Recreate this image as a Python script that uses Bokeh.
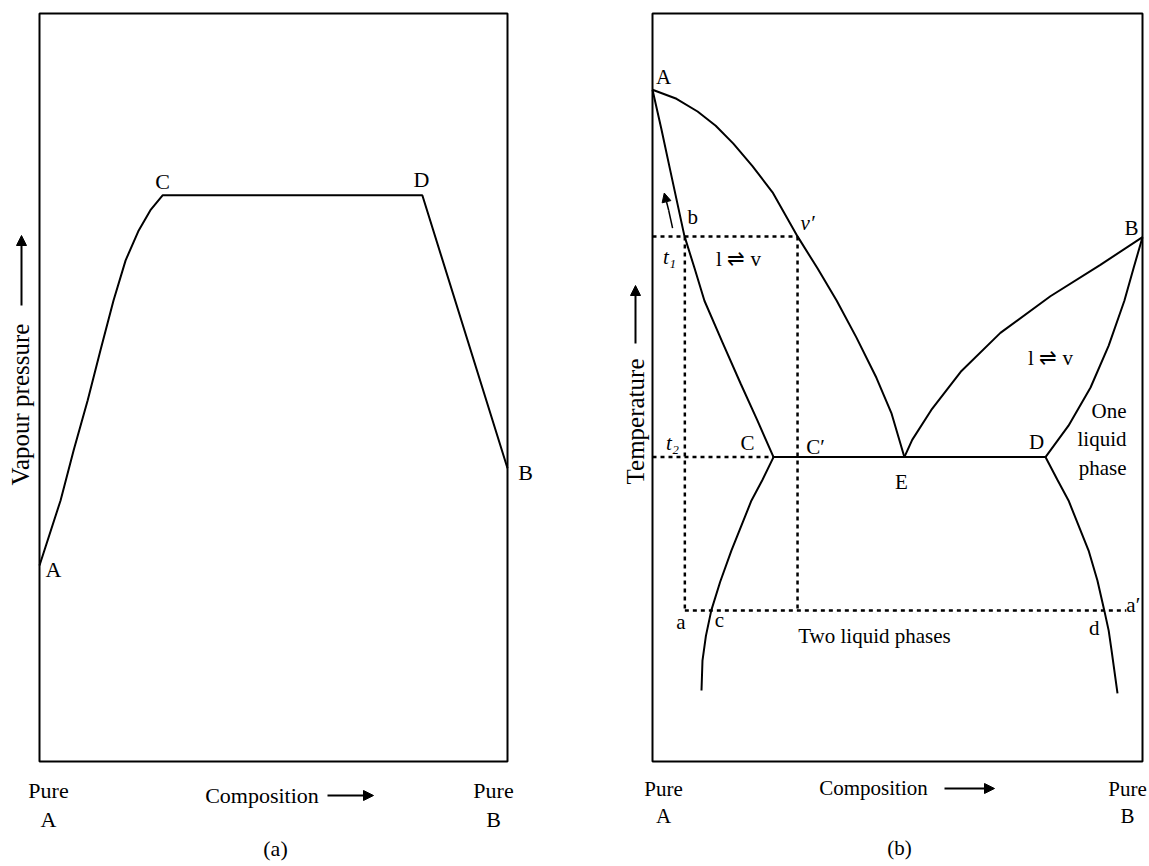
import math
from bokeh.plotting import figure
from bokeh.layouts import row
from bokeh.models import Label, Arrow, NormalHead, Range1d
from bokeh.embed import file_html
from bokeh.resources import INLINE

# ---------------- data: panel (a) vapour pressure vs composition ----------------
comp_a = [0.0, 0.045, 0.073, 0.103, 0.130, 0.158, 0.184, 0.212, 0.237, 0.263, 0.818, 1.0]
vp_a = [26.2, 34.9, 41.6, 48.3, 54.9, 61.6, 67.0, 71.0, 73.7, 75.7, 75.7, 39.2]
pts_a = {"A": (0.0, 26.2), "C": (0.263, 75.7), "D": (0.818, 75.7), "B": (1.0, 39.2)}

# ---------------- data: panel (b) temperature vs composition ----------------
vapA_x = [0.0, 0.049, 0.092, 0.129, 0.165, 0.204, 0.245, 0.296, 0.337, 0.376, 0.416, 0.457, 0.488, 0.514]
vapA_y = [89.8, 88.6, 86.9, 85.0, 82.6, 79.6, 76.1, 70.2, 65.9, 61.6, 56.7, 51.3, 46.5, 40.7]
liqA_x = [0.0, 0.018, 0.035, 0.065, 0.086, 0.106, 0.143, 0.180, 0.214, 0.247]
liqA_y = [89.8, 84.6, 79.4, 70.3, 65.9, 61.6, 56.0, 50.5, 45.6, 40.7]
vapB_x = [0.514, 0.530, 0.569, 0.629, 0.710, 0.812, 0.914, 1.0]
vapB_y = [40.7, 43.0, 47.0, 52.1, 57.3, 62.2, 66.4, 70.1]
liqB_x = [1.0, 0.982, 0.963, 0.931, 0.894, 0.849, 0.802]
liqB_y = [70.1, 66.0, 61.6, 55.6, 50.0, 44.9, 40.7]
solL_x = [0.247, 0.224, 0.202, 0.161, 0.138, 0.120, 0.109, 0.102, 0.100]
solL_y = [40.7, 37.6, 34.9, 28.2, 24.0, 20.2, 16.8, 13.5, 9.5]
solR_x = [0.802, 0.826, 0.849, 0.890, 0.908, 0.922, 0.931, 0.937, 0.949]
solR_y = [40.7, 37.7, 34.9, 28.2, 24.2, 20.2, 17.5, 14.8, 9.1]
x_C, x_E, x_D = 0.247, 0.514, 0.802
t1, t2, t_a = 70.2, 40.7, 20.2
x_a, x_vp, x_ap = 0.066, 0.296, 0.967
x_c, x_d = 0.120, 0.922
curl_x = [0.041, 0.033, 0.024]
curl_y = [71.3, 73.7, 76.0]

FONT = "Liberation Serif"

# reference layout (pixels) -> data helpers for annotation placement
A_L, A_W, B_L, B_W, TOP, H = 39, 468, 652, 490, 13, 748
def ax(px): return (px - A_L) / A_W
def bx(px): return (px - B_L) / B_W
def yy(py): return (TOP + H - py) / H * 100


def lab(p, x, y, text, dx=0, dy=0, size=22, style="normal", align="center",
        baseline="middle", angle=0.0, lh=1.16):
    p.add_layout(Label(x=x, y=y, x_offset=dx, y_offset=dy, text=text,
                       text_font=FONT, text_font_size=f"{size}px",
                       text_font_style=style, text_align=align,
                       text_baseline=baseline, text_color="black",
                       angle=angle, text_line_height=lh))


def arrow(p, x0, y0, x1, y1, size=10, lw=2):
    p.add_layout(Arrow(end=NormalHead(size=size, fill_color="black", line_color="black"),
                       x_start=x0, y_start=y0, x_end=x1, y_end=y1,
                       line_color="black", line_width=lw))


def make_fig(width, xr):
    p = figure(width=width, height=866, x_range=Range1d(*xr), y_range=Range1d(yy(866), yy(0)),
               x_axis_type=None, y_axis_type=None, toolbar_location=None, tools="",
               output_backend="svg", title=None,
               min_border_left=0, min_border_right=0, min_border_top=0, min_border_bottom=0)
    p.outline_line_color = None
    p.background_fill_color = "white"
    p.border_fill_color = "white"
    # plot box (composition 0..1, property 0..100)
    p.quad(left=0, right=1, bottom=0, top=100, fill_color=None,
           line_color="black", line_width=2)
    return p


# ---------------- panel (a) ----------------
pa = make_fig(580, (ax(0), ax(580)))
pa.line(comp_a, vp_a, line_color="black", line_width=2)
lab(pa, *pts_a["C"], "C", dy=14)
lab(pa, *pts_a["D"], "D", dx=-1, dy=16)
lab(pa, *pts_a["A"], "A", dx=14, dy=-4)
lab(pa, *pts_a["B"], "B", dx=18, dy=-4)
lab(pa, ax(48), yy(777), "Pure\nA", baseline="top")
lab(pa, ax(493), yy(777), "Pure\nB", baseline="top")
lab(pa, ax(261.5), yy(795), "Composition")
arrow(pa, ax(327), yy(795), ax(373), yy(795))
lab(pa, ax(275), yy(848), "(a)")
lab(pa, ax(20), yy(404), "Vapour pressure", size=25, angle=math.pi / 2)
arrow(pa, ax(21), yy(305), ax(21), yy(235))

# ---------------- panel (b) ----------------
pb = make_fig(569, (bx(580), bx(1149)))
K = dict(line_color="black", line_width=2)
D = dict(line_color="black", line_width=2.5, line_dash="4 4")
pb.line(vapA_x, vapA_y, **K)
pb.line(liqA_x, liqA_y, **K)
pb.line(vapB_x, vapB_y, **K)
pb.line(liqB_x, liqB_y, **K)
pb.line(solL_x, solL_y, **K)
pb.line(solR_x, solR_y, **K)
pb.line([x_C, x_D], [t2, t2], **K)
pb.line([0, x_vp], [t1, t1], **D)
pb.line([0, x_C], [t2, t2], **D)
pb.line([x_a, x_ap], [t_a, t_a], **D)
pb.line([x_a, x_a], [t1, t_a], **D)
pb.line([x_vp, x_vp], [t1, t_a], **D)
pb.line(curl_x[:2], curl_y[:2], line_color="black", line_width=1.5)
arrow(pb, curl_x[1], curl_y[1], curl_x[2], curl_y[2], size=9, lw=1.5)

S = 21
lab(pb, 0, vapA_y[0], "A", dx=11, dy=13, size=S)
lab(pb, x_a, t1, "b", dx=8, dy=19, size=S)
lab(pb, x_vp, t1, "v′", dx=10, dy=13, style="italic", size=S)
lab(pb, 0, t1, "t₁", dx=17, dy=-21, style="italic", size=S)
lab(pb, bx(738), yy(258), "l ⇌ v", size=S)
lab(pb, 1, vapB_y[-1], "B", dx=-11, dy=9, size=S)
lab(pb, bx(1050), yy(357), "l ⇌ v", size=S)
lab(pb, bx(1126), yy(398), "One\nliquid\nphase", align="right", baseline="top", size=S, lh=1.2)
lab(pb, 0, t2, "t₂", dx=20, dy=14, style="italic", size=S)
lab(pb, x_C, t2, "C", dx=-26, dy=14, size=S)
lab(pb, x_vp, t2, "C′", dx=18, dy=10, size=S)
lab(pb, x_E, t2, "E", dx=-3, dy=-25, size=S)
lab(pb, x_D, t2, "D", dx=-9, dy=15, size=S)
lab(pb, x_a, t_a, "a", dx=-4, dy=-12, size=S)
lab(pb, x_c, t_a, "c", dx=8, dy=-10, size=S)
lab(pb, x_d, t_a, "d", dx=-10, dy=-18, size=S)
lab(pb, x_ap, t_a, "a′", dx=7, dy=5, size=S)
lab(pb, bx(874), yy(635), "Two liquid phases", size=S)

lab(pb, bx(663), yy(776), "Pure\nA", baseline="top", size=S)
lab(pb, bx(1127), yy(776), "Pure\nB", baseline="top", size=S)
lab(pb, bx(873), yy(787), "Composition", size=S)
arrow(pb, bx(944), yy(788), bx(994), yy(788))
lab(pb, bx(899), yy(847), "(b)", size=S)
lab(pb, bx(635), yy(421), "Temperature", size=25, angle=math.pi / 2)
arrow(pb, bx(635), yy(343), bx(635), yy(285))

layout = row(pa, pb)
open("out.html", "w").write(file_html(layout, INLINE))
